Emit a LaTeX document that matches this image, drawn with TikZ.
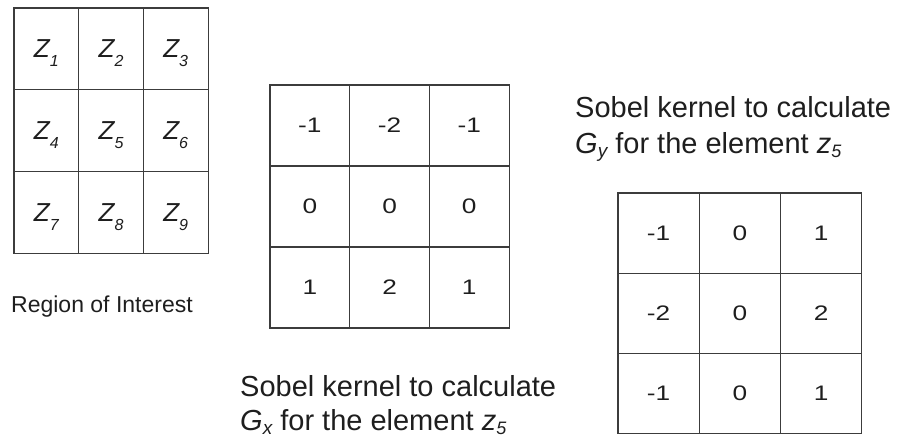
\documentclass[tikz,border=0pt]{standalone}
\usepackage{fontspec}
\usepackage{graphicx}
\setmainfont{Liberation Sans}
\usetikzlibrary{calc}
\definecolor{gridline}{HTML}{3C3C3C}
\definecolor{ink}{HTML}{1E1E1E}
% wide digits used in the kernel cells
\newcommand\kdigit[1]{\scalebox{1.25}[1]{#1}}
% italic subscript, lowered by #1, size #2
\newcommand\lowsub[3]{\raisebox{-#1}{\fontsize{#2}{#2}\selectfont\itshape #3}}
\begin{document}
\begin{tikzpicture}[x=1pt,y=-1pt,
  cell/.style={draw=gridline, line width=1.1pt, inner sep=0pt, text=ink},
  roicell/.style={cell, minimum width=64.7pt, minimum height=81.7pt},
  gxcell/.style={cell, minimum width=79.7pt, minimum height=81pt,
    font=\fontsize{21}{21}\selectfont},
  gycell/.style={cell, minimum width=81.3pt, minimum height=80.3pt,
    font=\fontsize{21}{21}\selectfont},
  zlab/.style={inner sep=0pt, anchor=base, text=ink,
    font=\fontsize{26}{26}\selectfont\itshape},
  lbl/.style={inner sep=0pt, anchor=base west, text=ink,
    font=\fontsize{29}{36}\selectfont},
  roilbl/.style={inner sep=0pt, anchor=base west, text=ink,
    font=\fontsize{23}{23}\selectfont}]
\useasboundingbox (0,0) rectangle (903,439);

% region of interest z1 ... z9
\foreach \r in {1,2,3} {
  \foreach \c in {1,2,3} {
    \pgfmathtruncatemacro\k{3*(\r-1)+\c}
    \node[roicell] (z\k) at ({14+64.7*(\c-0.5)},{8+81.7*(\r-0.5)}) {};
    \node[zlab] (zl\k) at ($(z\k.center)+(0,9)$) {Z\lowsub{9pt}{16}{\k}};
  }
}
\node[roilbl] (roi) at (11,312) {Region of Interest};

% kernel for G_x
\foreach \v [count=\k] in {-1,-2,-1,0,0,0,1,2,1} {
  \pgfmathtruncatemacro\r{int((\k-1)/3)}
  \pgfmathtruncatemacro\c{mod(\k-1,3)}
  \node[gxcell] (gx\k) at ({270+79.7*(\c+0.5)},{85+81*(\r+0.5)}) {\kdigit{\v}};
}
\node[lbl] (gxa) at (240,396) {Sobel kernel to calculate};
\node[lbl] (gxb) at (240,430) {\textit{G}\lowsub{4pt}{19}{x} for the element \textit{z}\lowsub{4pt}{18}{5}};

% kernel for G_y
\foreach \v [count=\k] in {-1,0,1,-2,0,2,-1,0,1} {
  \pgfmathtruncatemacro\r{int((\k-1)/3)}
  \pgfmathtruncatemacro\c{mod(\k-1,3)}
  \node[gycell] (gy\k) at ({618+81.3*(\c+0.5)},{193+80.3*(\r+0.5)}) {\kdigit{\v}};
}
\node[lbl] (gya) at (575,117) {Sobel kernel to calculate};
\node[lbl] (gyb) at (575,153) {\textit{G}\lowsub{4pt}{19}{y} for the element \textit{z}\lowsub{4pt}{18}{5}};
\end{tikzpicture}
\end{document}
